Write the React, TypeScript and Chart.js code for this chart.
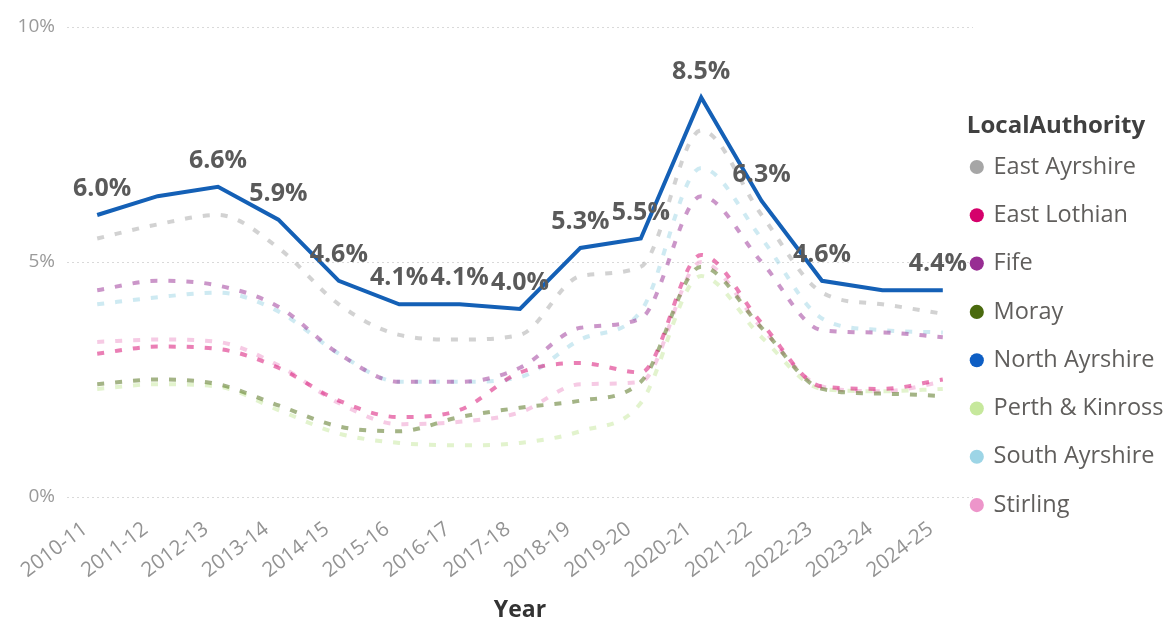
import { useEffect, useRef } from 'react';
import { Chart, registerables } from 'chart.js';

Chart.register(...registerables);

const FONT = "'Open Sans', 'Noto Sans', sans-serif";

// ---- data ----
const years = ['2010-11', '2011-12', '2012-13', '2013-14', '2014-15', '2015-16', '2016-17', '2017-18', '2018-19', '2019-20', '2020-21', '2021-22', '2022-23', '2023-24', '2024-25'];

const eastAyrshire = [5.5, 5.8, 6.0, 5.3, 4.1, 3.45, 3.35, 3.45, 4.7, 4.9, 7.8, 6.0, 4.35, 4.1, 3.9];
const eastLothian = [3.05, 3.2, 3.15, 2.75, 2.05, 1.7, 1.85, 2.65, 2.85, 2.65, 5.15, 3.7, 2.35, 2.3, 2.5];
const fife = [4.4, 4.6, 4.5, 4.05, 3.05, 2.45, 2.45, 2.75, 3.6, 3.8, 6.4, 5.0, 3.55, 3.5, 3.4];
const moray = [2.4, 2.5, 2.4, 1.95, 1.5, 1.4, 1.7, 1.9, 2.05, 2.45, 4.9, 3.6, 2.3, 2.2, 2.15];
const northAyrshire = [6.0, 6.4, 6.6, 5.9, 4.6, 4.1, 4.1, 4.0, 5.3, 5.5, 8.5, 6.3, 4.6, 4.4, 4.4];
const perthKinross = [2.3, 2.4, 2.35, 1.85, 1.35, 1.15, 1.1, 1.15, 1.4, 2.0, 4.7, 3.4, 2.3, 2.25, 2.3];
const southAyrshire = [4.1, 4.25, 4.35, 3.95, 3.05, 2.45, 2.45, 2.55, 3.35, 3.95, 7.0, 5.5, 3.8, 3.55, 3.5];
const stirling = [3.3, 3.35, 3.3, 2.8, 2.0, 1.55, 1.6, 1.8, 2.4, 2.45, 5.0, 3.6, 2.35, 2.25, 2.45];

const seriesNames = ['East Ayrshire', 'East Lothian', 'Fife', 'Moray', 'North Ayrshire', 'Perth & Kinross', 'South Ayrshire', 'Stirling'];
const seriesValues = [eastAyrshire, eastLothian, fife, moray, northAyrshire, perthKinross, southAyrshire, stirling];
const seriesColors = ['#A6A6A6', '#D5006B', '#982D93', '#4A6A0E', '#0D5EC4', '#C6E89C', '#9DD5E6', '#ED95CA'];

const highlighted = 'North Ayrshire';
const unlabelledYears = ['2011-12', '2023-24'];
const yTicks = [0, 5, 10];
const legendTitle = 'LocalAuthority';
const xTitle = 'Year';

function hexToRgba(hex: string, a: number) {
  const n = parseInt(hex.slice(1), 16);
  return `rgba(${(n >> 16) & 255}, ${(n >> 8) & 255}, ${n & 255}, ${a})`;
}

const labelPlugin = {
  id: 'highlightLabels',
  afterDatasetsDraw(chart: any) {
    const idx = chart.data.datasets.findIndex((d: any) => d.label === highlighted);
    if (idx < 0) return;
    const meta = chart.getDatasetMeta(idx);
    const values = chart.data.datasets[idx].data as number[];
    const { ctx, chartArea } = chart;
    ctx.save();
    ctx.font = `bold 25px ${FONT}`;
    ctx.fillStyle = '#5a5a5a';
    ctx.textAlign = 'center';
    ctx.textBaseline = 'middle';
    meta.data.forEach((pt: any, i: number) => {
      if (unlabelledYears.includes(years[i])) return;
      const text = values[i].toFixed(1) + '%';
      const w = ctx.measureText(text).width;
      const x = Math.min(Math.max(pt.x, chartArea.left + w / 2 + 6), chartArea.right - w / 2 - 6);
      ctx.fillText(text, x, pt.y - 26);
    });
    ctx.restore();
  },
};

const legendShift = {
  id: 'legendShift',
  afterLayout(chart: any) {
    const lg = chart.legend;
    if (!lg) return;
    lg.left = chart.chartArea.right - 26;
    lg.width = 2 * (1056 - lg.left);
    lg.right = lg.left + lg.width;
  },
};

export default function App() {
  const ref = useRef<HTMLCanvasElement>(null);

  useEffect(() => {
    document.body.style.margin = '0';
    const datasets = seriesNames.map((name, i) => {
      const isHi = name === highlighted;
      return {
        label: name,
        data: seriesValues[i],
        borderColor: isHi ? '#1460B6' : hexToRgba(seriesColors[i], 0.5),
        backgroundColor: seriesColors[i],
        borderWidth: 4,
        borderDash: isHi ? [] : [7, 11],
        cubicInterpolationMode: isHi ? 'default' : 'monotone',
        tension: isHi ? 0 : 0.4,
        pointRadius: 0,
        pointHoverRadius: 0,
        order: isHi ? 0 : 1,
      };
    });

    const chart = new Chart(ref.current as HTMLCanvasElement, {
      type: 'line',
      data: { labels: years, datasets: datasets as any },
      plugins: [labelPlugin, legendShift],
      options: {
        animation: false,
        responsive: true,
        maintainAspectRatio: false,
        layout: { padding: { top: 27, left: 0, right: 0, bottom: 0 } },
        font: { family: FONT },
        plugins: {
          tooltip: { enabled: false },
          legend: {
            position: 'right',
            align: 'start',
            maxWidth: 196,
            title: {
              display: true,
              text: legendTitle,
              position: 'center',
              color: '#404040',
              font: { family: FONT, size: 24, weight: 'bold', lineHeight: 0.5 },
              padding: { top: 87, bottom: 4.45 },
            },
            labels: {
              usePointStyle: true,
              pointStyle: 'circle',
              boxWidth: 10,
              boxHeight: 10,
              padding: 24.8,
              color: '#605E5C',
              font: { family: FONT, size: 23.5 },
              generateLabels: (c: any) =>
                c.data.datasets.map((ds: any, i: number) => ({
                  text: ds.label,
                  fillStyle: seriesColors[i],
                  strokeStyle: seriesColors[i],
                  lineWidth: 0,
                  pointStyle: 'circle',
                  hidden: false,
                  datasetIndex: i,
                  fontColor: '#605E5C',
                })),
            },
          },
        },
        scales: {
          x: {
            type: 'category',
            offset: true,
            grid: { display: false, drawTicks: false },
            border: { display: false },
            ticks: {
              color: '#939393',
              font: { family: FONT, size: 20.5 },
              minRotation: 37,
              maxRotation: 37,
              padding: 20,
              labelOffset: -12,
              autoSkip: false,
            },
            title: {
              display: true,
              text: xTitle,
              color: '#333333',
              font: { family: FONT, size: 23, weight: 'bold' },
              padding: { top: 0, bottom: 0 },
            },
            afterFit: (scale: any) => {
              scale.height = 127;
            },
          },
          y: {
            min: 0,
            max: 10,
            afterBuildTicks: (scale: any) => {
              scale.ticks = yTicks.map((v) => ({ value: v }));
            },
            grid: { color: '#d9d9d9', lineWidth: 1, drawTicks: false },
            border: { display: false, dash: [2, 3] },
            ticks: {
              color: '#9a9a9a',
              font: { family: FONT, size: 19 },
              padding: 12,
              callback: (v: any) => `${v}%`,
            },
            afterFit: (scale: any) => {
              scale.width = 67;
            },
          },
        },
      } as any,
    });
    return () => chart.destroy();
  }, []);

  return (
    <div style={{ width: 1169, height: 624, position: 'relative' }}>
      <canvas ref={ref} />
    </div>
  );
}
